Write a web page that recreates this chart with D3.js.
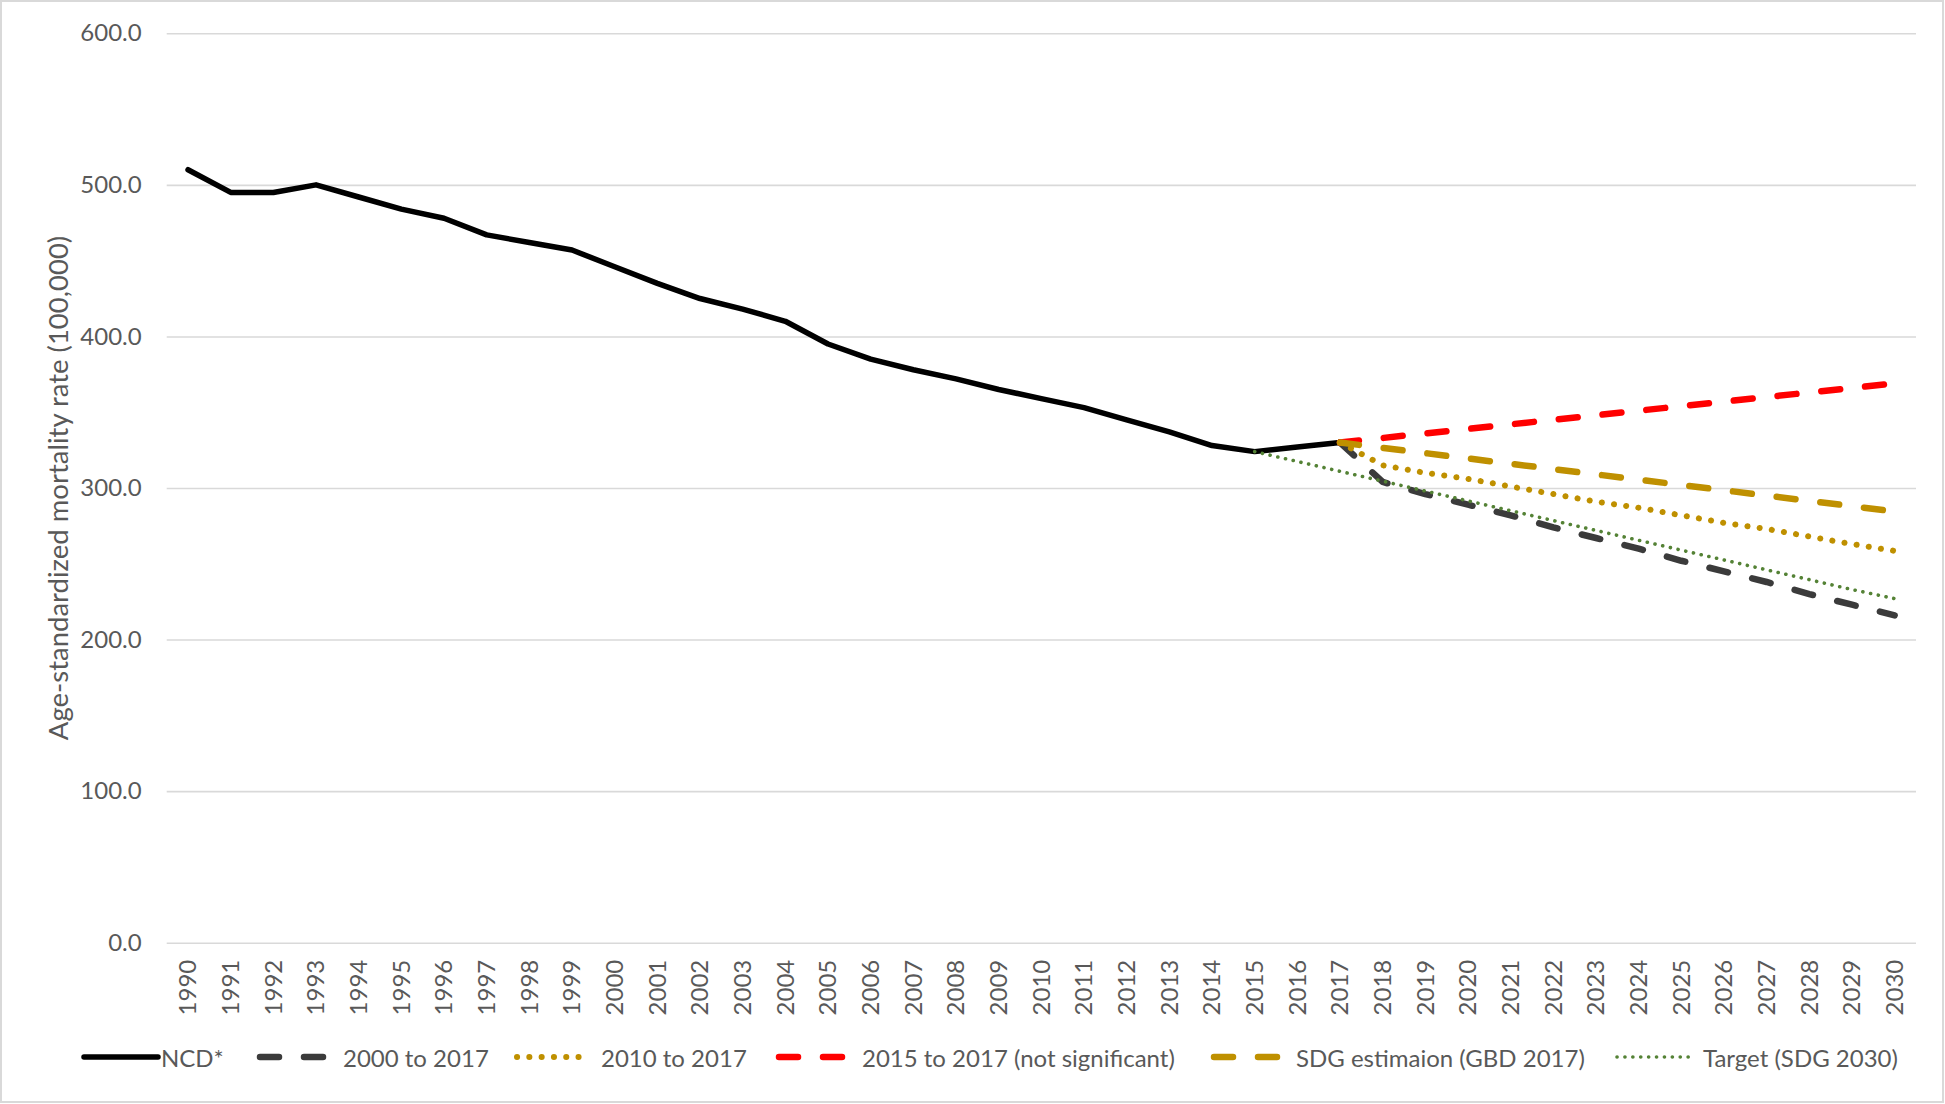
<!DOCTYPE html>
<html><head><meta charset="utf-8">
<script src="https://cdn.jsdelivr.net/npm/d3@7"></script>
<style>body{margin:0;background:#fff;overflow:hidden;} text{font-family:Lato, "Open Sans", sans-serif;}</style>
</head><body><svg id="c" width="1945" height="1104"></svg>
<script>
const years = ["1990","1991","1992","1993","1994","1995","1996","1997","1998","1999","2000","2001","2002","2003","2004","2005","2006","2007","2008","2009","2010","2011","2012","2013","2014","2015","2016","2017","2018","2019","2020","2021","2022","2023","2024","2025","2026","2027","2028","2029","2030"];
const yTicks = [0,100,200,300,400,500,600];

// NCD* observed, 1990-2017
const ncd = [510,495,495,500,492,484,478,467,462,457,446,435,425,418,410,395,385,378,372,365,359,353,345,337,328,324,327,330];
// Projections start at 2017
const trend2000 = [330,304,296,289,282,274,267,260,252,245,238,230,223,216];
const trend2010 = [330,315,310,306,301,296,291,287,282,277,273,268,263,258.5];
const trend2015 = [330,333,336,339,342,345,348,351,354,357,360,363,366,369];
const sdgEst    = [330,326.5,323,319.5,316,312.5,309,305.5,302,298.5,295,291.5,288,284.5];
// Target starts at 2015
const target    = [324,317.5,311,304.5,298,291.5,285,278.5,272,265.5,259,252.5,246,239.5,233,227];

const seriesNames = ["NCD*","2000 to 2017","2010 to 2017","2015 to 2017 (not significant)","SDG estimaion (GBD 2017)","Target (SDG 2030)"];

const svg = d3.select("#c");
const L = 166.7, R = 1916, T = 33.3, B = 942.7;
const textColor = "#595959";
const fs = "24px";

svg.append("rect").attr("x",1).attr("y",1).attr("width",1942).attr("height",1101)
  .attr("fill","#fff").attr("stroke","#d9d9d9").attr("stroke-width",2);

const x = d3.scaleBand().domain(years).range([L, R]);
const bw = x.bandwidth();
const y = d3.scaleLinear().domain([0,600]).range([B, T]);

// Y axis + gridlines
const ya = svg.append("g").attr("transform",`translate(${L},0)`)
  .call(d3.axisLeft(y).tickValues(yTicks).tickSize(-(R-L)).tickPadding(25).tickFormat(d3.format(".1f")));
ya.select(".domain").remove();
ya.selectAll("line").attr("stroke","#d9d9d9").attr("stroke-width",1.6);
ya.selectAll("text").attr("fill",textColor).style("font-size",fs);

// X axis labels
const xa = svg.append("g").attr("transform",`translate(0,${B})`)
  .call(d3.axisBottom(x).tickSize(0));
xa.select(".domain").remove();
xa.selectAll("text").attr("fill",textColor).style("font-size",fs)
  .attr("transform","rotate(-90)").attr("text-anchor","end")
  .attr("x",-17).attr("y",0).attr("dy","0.35em");

// Axis title
svg.append("text").attr("transform","translate(57,488) rotate(-90)")
  .attr("text-anchor","middle").attr("dominant-baseline","central")
  .attr("fill",textColor).style("font-size","27.5px")
  .text("Age-standardized mortality rate (100,000)");

function pts(arr, startYear){
  const i0 = years.indexOf(startYear);
  return arr.map((v,i)=>({yr:years[i0+i], v}));
}
const line = d3.line().x(d=>x(d.yr)+bw/2).y(d=>y(d.v));

const styles = [
  {data:pts(ncd,"1990"), color:"#000000", w:5.5, dash:null, cap:"round"},
  {data:pts(trend2000,"2017"), color:"#3b3b3b", w:6.5, dash:"19,25", cap:"round"},
  {data:pts(trend2010,"2017"), color:"#bf9000", w:6, dash:"0.1,12.2", cap:"round"},
  {data:pts(trend2015,"2017"), color:"#ff0000", w:6.5, dash:"19,25", cap:"round"},
  {data:pts(sdgEst,"2017"), color:"#bf9000", w:6.5, dash:"19,25", cap:"round"},
  {data:pts(target,"2015"), color:"#548235", w:3.6, dash:"0.1,7.8", cap:"round"}
];

const g = svg.append("g");
styles.forEach(s=>{
  g.append("path").attr("d",line(s.data)).attr("fill","none")
    .attr("stroke",s.color).attr("stroke-width",s.w)
    .attr("stroke-linejoin","round").attr("stroke-linecap",s.cap)
    .attr("stroke-dasharray",s.dash);
});

// Legend
const legendY = 1057;
const legendPos = [
  {x1:84,x2:158,tx:161},
  {x1:260,x2:323,tx:343, dash:"19,25"},
  {x1:517,x2:583,tx:601, dash:"0.1,12.2"},
  {x1:779,x2:842,tx:862, dash:"19,25"},
  {x1:1214,x2:1277,tx:1296, dash:"19,25"},
  {x1:1617,x2:1692,tx:1703, dash:"0.1,7.8"}
];
const lg = svg.append("g");
styles.forEach((s,i)=>{
  const p = legendPos[i];
  lg.append("line").attr("x1",p.x1).attr("x2",p.x2).attr("y1",legendY).attr("y2",legendY)
    .attr("stroke",s.color).attr("stroke-width",s.w).attr("stroke-linecap","round")
    .attr("stroke-dasharray", p.dash || null);
  lg.append("text").attr("x",p.tx).attr("y",legendY).attr("dominant-baseline","central")
    .attr("fill",textColor).style("font-size",fs).text(seriesNames[i]);
});
</script></body></html>
